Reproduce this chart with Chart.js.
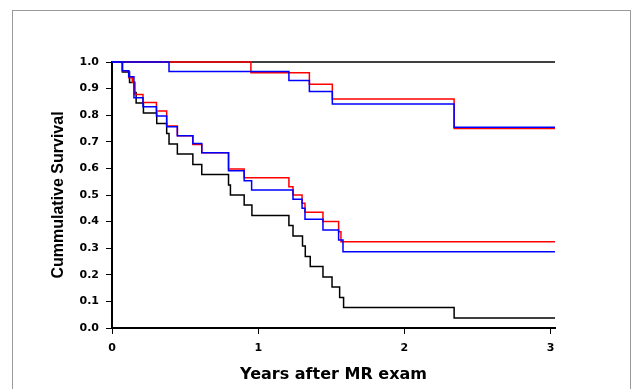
<!DOCTYPE html>
<html>
<head>
<meta charset="utf-8">
<script src="https://cdn.jsdelivr.net/npm/chart.js@4"></script>
<style>
  html, body { margin: 0; padding: 0; background: #fff; }
  #wrap { width: 635px; height: 389px; position: relative; }
</style>
</head>
<body>
<div id="wrap"><canvas id="c" width="635" height="389"></canvas></div>
<script>
// ---- Data (years after MR exam, cumulative survival) ----
const xTicks = [0, 1, 2, 3];
const xEnd = 3.03;

const upperBlackTimes = [0, xEnd];
const upperBlackSurv  = [1.0, 1.0];

const upperRedTimes = [0, 0.95, 1.35, 1.507, 2.34, xEnd];
const upperRedSurv  = [1.0, 0.960, 0.916, 0.861, 0.750, 0.750];

const upperBlueTimes = [0, 0.39, 1.21, 1.35, 1.507, 2.34, xEnd];
const upperBlueSurv  = [1.0, 0.964, 0.930, 0.889, 0.842, 0.755, 0.755];

const lowerRedTimes = [0, 0.071, 0.115, 0.139, 0.155, 0.212, 0.304, 0.374, 0.447, 0.553, 0.614, 0.797, 0.904, 1.21, 1.238, 1.30, 1.32, 1.443, 1.55, 1.566, xEnd];
const lowerRedSurv  = [1.0, 0.967, 0.941, 0.924, 0.878, 0.848, 0.816, 0.759, 0.723, 0.690, 0.659, 0.598, 0.565, 0.531, 0.500, 0.469, 0.435, 0.400, 0.362, 0.324, 0.324];

const lowerBlueTimes = [0, 0.071, 0.114, 0.150, 0.212, 0.304, 0.374, 0.447, 0.553, 0.614, 0.797, 0.904, 0.955, 1.238, 1.30, 1.32, 1.443, 1.55, 1.58, xEnd];
const lowerBlueSurv  = [1.0, 0.967, 0.945, 0.866, 0.832, 0.797, 0.757, 0.723, 0.694, 0.659, 0.591, 0.554, 0.519, 0.484, 0.450, 0.409, 0.368, 0.331, 0.287, 0.287];

const lowerBlackTimes = [0, 0.071, 0.12, 0.155, 0.165, 0.215, 0.306, 0.374, 0.39, 0.447, 0.553, 0.614, 0.797, 0.81, 0.904, 0.957, 1.21, 1.238, 1.303, 1.322, 1.356, 1.443, 1.505, 1.557, 1.584, 2.34, xEnd];
const lowerBlackSurv  = [1.0, 0.962, 0.923, 0.885, 0.846, 0.808, 0.769, 0.731, 0.692, 0.654, 0.615, 0.577, 0.538, 0.500, 0.462, 0.423, 0.385, 0.346, 0.308, 0.269, 0.231, 0.192, 0.154, 0.115, 0.077, 0.038, 0.038];

function pts(t, s) { return t.map((x, i) => ({x: x, y: s[i]})); }

function ds(label, t, s, color) {
  return {
    label: label,
    data: pts(t, s),
    borderColor: color,
    backgroundColor: color,
    borderWidth: 1.5,
    pointRadius: 0,
    stepped: 'before',
    fill: false,
    clip: 6
  };
}

const frame = {
  id: 'frame',
  beforeDraw(chart) {
    const ctx = chart.ctx;
    ctx.save();
    ctx.fillStyle = '#fff';
    ctx.fillRect(0, 0, chart.width, chart.height);
    ctx.strokeStyle = '#9a9a9a';
    ctx.lineWidth = 1;
    ctx.strokeRect(12.5, 10.5, 618, 400);
    ctx.restore();
  }
};

const tickFont = { family: "'DejaVu Sans'", weight: 'bold', size: 11 };

new Chart(document.getElementById('c'), {
  type: 'line',
  data: {
    datasets: [
      ds('Upper blue', upperBlueTimes, upperBlueSurv, '#0000ff'),
      ds('Lower blue', lowerBlueTimes, lowerBlueSurv, '#0000ff'),
      ds('Upper red', upperRedTimes, upperRedSurv, '#ff0000'),
      ds('Lower red', lowerRedTimes, lowerRedSurv, '#ff0000'),
      ds('Upper black', upperBlackTimes, upperBlackSurv, '#000000'),
      ds('Lower black', lowerBlackTimes, lowerBlackSurv, '#000000')
    ]
  },
  options: {
    responsive: false,
    animation: false,
    events: [],
    layout: { padding: { left: 0, top: 62, right: 80, bottom: 0 } },
    plugins: { legend: { display: false }, tooltip: { enabled: false } },
    scales: {
      x: {
        type: 'linear',
        min: 0,
        max: xEnd,
        afterFit(scale) { scale.height = 61; },
        afterBuildTicks(scale) { scale.ticks = xTicks.map(v => ({value: v})); },
        ticks: {
          stepSize: 1,
          includeBounds: false,
          color: '#000',
          font: tickFont,
          padding: 8,
          callback: v => String(v)
        },
        grid: { display: true, drawOnChartArea: false, drawTicks: true, tickLength: 6, color: '#000', lineWidth: 1 },
        border: { display: true, color: '#000', width: 2 },
        title: {
          display: true,
          text: 'Years after MR exam',
          color: '#000',
          font: { family: "'DejaVu Sans'", weight: 'bold', size: 16 },
          padding: { top: 0, bottom: 5 }
        }
      },
      y: {
        type: 'linear',
        min: 0,
        max: 1,
        afterFit(scale) { scale.width = 112; },
        ticks: {
          stepSize: 0.1,
          color: '#000',
          font: tickFont,
          padding: 7,
          callback: v => Number(v).toFixed(1)
        },
        grid: { display: true, drawOnChartArea: false, drawTicks: true, tickLength: 6, color: '#000', lineWidth: 1 },
        border: { display: true, color: '#000', width: 2 },
        title: {
          display: true,
          text: 'Cummulative Survival',
          color: '#000',
          font: { family: "'Liberation Sans', Arial", weight: 'bold', size: 16 },
          padding: { top: 49, bottom: 0 }
        }
      }
    }
  },
  plugins: [frame]
});
</script>
</body>
</html>
